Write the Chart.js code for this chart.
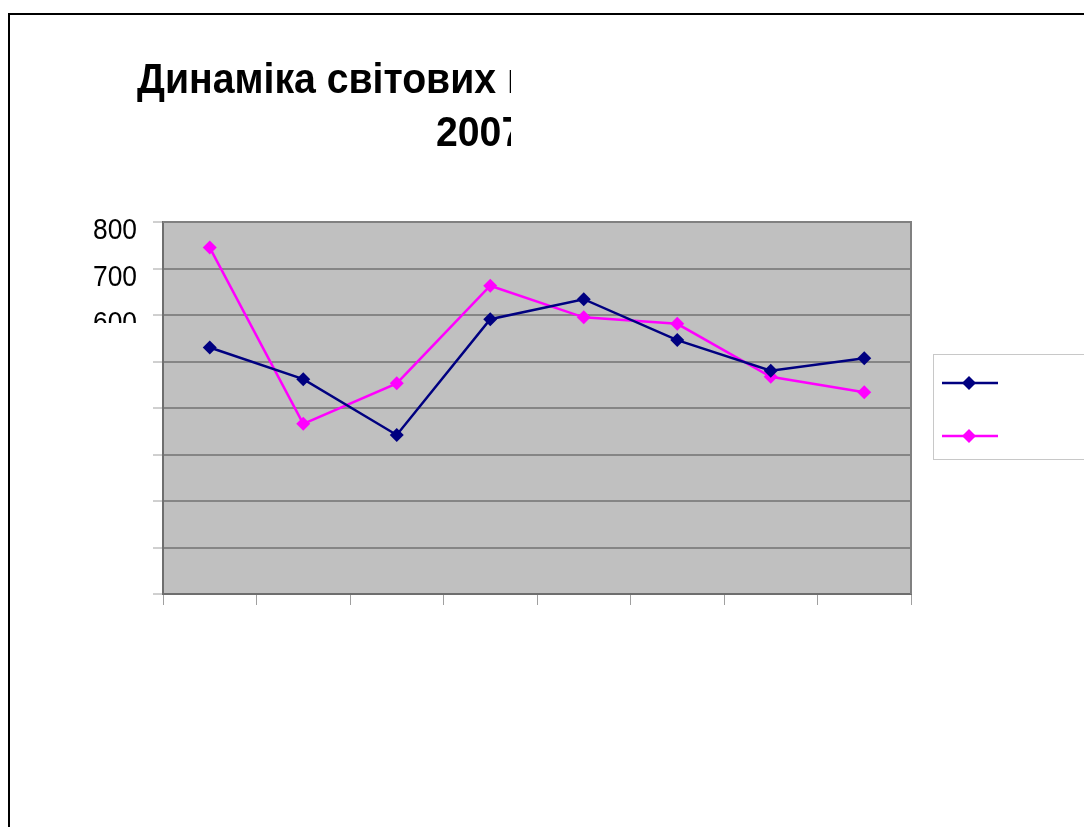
<!DOCTYPE html>
<html>
<head>
<meta charset="utf-8">
<title>Динаміка світових цін</title>
<script src="https://cdn.jsdelivr.net/npm/chart.js@4.4.1/dist/chart.umd.min.js"></script>
<style>
  html, body { margin: 0; padding: 0; background: #fff; }
  #wrap { position: relative; width: 1084px; height: 827px; overflow: hidden; }
  #frame { position: absolute; left: 8px; top: 13px; right: -10px; bottom: -10px;
           border-left: 2px solid #000; border-top: 2px solid #000; }
  canvas { position: absolute; left: 0; top: 0; }
</style>
</head>
<body>
<div id="wrap">
  <div id="frame"></div>
  <canvas id="priceChart" width="1084" height="827"></canvas>
</div>
<script>
// chart data
const titleLines = ["Динаміка світових цін", "2007-2014 рр."];
const categories = ["2007", "2008", "2009", "2010", "2011", "2012", "2013", "2014"];
const seriesNames = ["Ряд1", "Ряд2"];
const seriesA = [530, 462, 342, 591, 634, 546, 480, 507];
const seriesB = [745, 366, 453, 663, 595, 581, 467, 434];
const yTicks = [0, 100, 200, 300, 400, 500, 600, 700, 800];

const NAVY = "#000080";
const MAGENTA = "#ff00ff";

// ------------------------------
// Plot area background + frame
// ------------------------------
const plotBackground = {
  id: "plotBackground",
  beforeDraw(chart) {
    const { ctx, chartArea: a } = chart;
    ctx.save();
    ctx.fillStyle = "#c0c0c0";
    ctx.fillRect(a.left, a.top, a.right - a.left, a.bottom - a.top);
    ctx.restore();
  },
  beforeDatasetsDraw(chart) {
    const { ctx, chartArea: a } = chart;
    ctx.save();
    ctx.strokeStyle = "#808080";
    ctx.lineWidth = 2;
    ctx.beginPath();
    ctx.moveTo(a.left, a.top);
    ctx.lineTo(a.right, a.top);
    ctx.lineTo(a.right, a.bottom);
    ctx.stroke();
    ctx.restore();
  }
};

// ------------------------------
// Title and y labels (clipped like the source)
// ------------------------------
const clippedText = {
  id: "clippedText",
  afterDraw(chart) {
    const ctx = chart.ctx;
    const y = chart.scales.y;

    // title
    ctx.save();
    ctx.beginPath();
    ctx.rect(0, 0, 511, 200);
    ctx.clip();
    ctx.fillStyle = "#000";
    ctx.font = "bold 42px 'Liberation Sans', Arial, sans-serif";
    ctx.textBaseline = "alphabetic";
    const sx = 370 / ctx.measureText("Динаміка світових ").width;
    ctx.save();
    ctx.translate(137, 93);
    ctx.scale(sx, 1);
    ctx.fillText(titleLines[0], 0, 0);
    ctx.restore();
    ctx.save();
    ctx.translate(436, 146);
    ctx.scale(sx, 1);
    ctx.fillText(titleLines[1], 0, 0);
    ctx.restore();
    ctx.restore();

    // y axis labels
    ctx.save();
    ctx.beginPath();
    ctx.rect(0, 200, 160, 123);
    ctx.clip();
    ctx.fillStyle = "#000";
    ctx.font = "29px 'Liberation Sans', Arial, sans-serif";
    ctx.textAlign = "right";
    const lx = 44 / ctx.measureText("800").width;
    yTicks.forEach(v => {
      ctx.save();
      ctx.translate(137, y.getPixelForValue(v) + 17);
      ctx.scale(lx, 1);
      ctx.fillText(String(v), 0, 0);
      ctx.restore();
    });
    ctx.restore();
  }
};

// ------------------------------
// Legend (samples only, labels cut off)
// ------------------------------
const sampleLegend = {
  id: "sampleLegend",
  afterDraw(chart) {
    const { ctx, chartArea: a } = chart;
    const bx = a.right + 22, by = 354;
    ctx.save();
    ctx.strokeStyle = "#c8c8c8";
    ctx.lineWidth = 1;
    ctx.strokeRect(bx + 0.5, by + 0.5, 200, 105);
    chart.data.datasets.forEach((ds, i) => {
      const ly = 383 + i * 53;
      ctx.strokeStyle = ds.borderColor;
      ctx.lineWidth = 2.5;
      ctx.beginPath();
      ctx.moveTo(bx + 9, ly);
      ctx.lineTo(bx + 65, ly);
      ctx.stroke();
      ctx.fillStyle = ds.borderColor;
      ctx.beginPath();
      ctx.moveTo(bx + 36, ly - 7);
      ctx.lineTo(bx + 43, ly);
      ctx.lineTo(bx + 36, ly + 7);
      ctx.lineTo(bx + 29, ly);
      ctx.closePath();
      ctx.fill();
    });
    ctx.restore();
  }
};

function makeSeries(label, data, color) {
  return {
    label: label,
    data: data,
    borderColor: color,
    backgroundColor: color,
    borderWidth: 2.5,
    pointStyle: "rectRot",
    pointRadius: 7,
    pointHoverRadius: 7,
    pointBackgroundColor: color,
    pointBorderColor: color,
    pointBorderWidth: 0,
    tension: 0,
    fill: false
  };
}

new Chart(document.getElementById("priceChart").getContext("2d"), {
  type: "line",
  data: {
    labels: categories,
    datasets: [
      makeSeries(seriesNames[0], seriesA, NAVY),
      makeSeries(seriesNames[1], seriesB, MAGENTA)
    ]
  },
  options: {
    responsive: false,
    animation: false,
    devicePixelRatio: 1,
    layout: { padding: { left: 0, top: 222, right: 173, bottom: 0 } },
    plugins: {
      legend: { display: false },
      title: { display: false },
      tooltip: { enabled: false }
    },
    scales: {
      x: {
        type: "category",
        offset: true,
        grid: { offset: true, drawOnChartArea: false, tickLength: 11, tickColor: "#a0a0a0", tickWidth: 1 },
        border: { color: "#6e6e6e", width: 2 },
        ticks: { display: false },
        afterFit: s => { s.height = 233; }
      },
      y: {
        min: 0,
        max: 800,
        ticks: { display: false, stepSize: 100 },
        grid: { color: "#858585", lineWidth: 2, tickLength: 10, tickColor: "#a0a0a0", tickWidth: 1 },
        border: { color: "#6e6e6e", width: 2 },
        afterFit: s => { s.width = 163; }
      }
    }
  },
  plugins: [plotBackground, clippedText, sampleLegend]
});
</script>
</body>
</html>
